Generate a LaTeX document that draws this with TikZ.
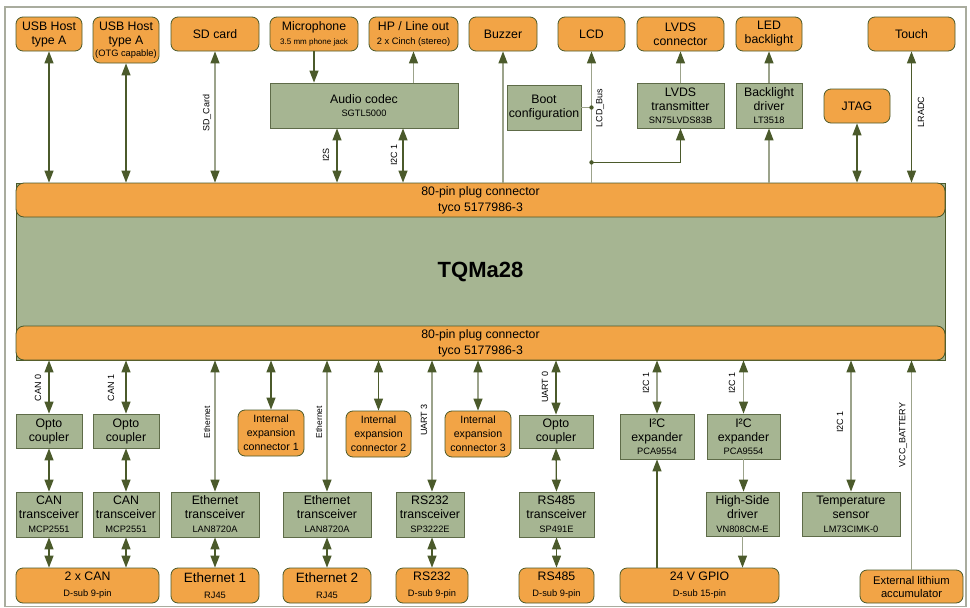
\documentclass[tikz,border=0pt]{standalone}
\usepackage{fontspec}
\setmainfont{Liberation Sans}
\usetikzlibrary{arrows.meta,calc}
\definecolor{org}{HTML}{F2A446}
\definecolor{grn}{HTML}{A6B592}
\definecolor{dk}{HTML}{4B5A2B}
\definecolor{gbord}{HTML}{5E6B48}
\definecolor{lt}{HTML}{9CA38B}
\definecolor{frm}{HTML}{A9AC9E}
\newcommand\bx[7]{\node[#2, minimum width={(#5)-(#3)}, minimum height={(#6)-(#4)}] (#1) at ({((#3)+(#5))/2},{((#4)+(#6))/2}) {#7};}
\newcommand\sm[1]{{\fontsize{9.3}{15}\selectfont #1}}
\newcommand\tn[1]{{\fontsize{8}{15}\selectfont #1}}
\tikzset{
 Tri/.tip={Triangle[length=12pt,width=9pt,color=dk]},
 obox/.style={draw=dk, fill=org, rounded corners=7pt, line width=0.8pt, align=center, inner sep=0.5pt, font=\fontsize{12.3}{15}\selectfont},
 gbox/.style={draw=gbord, fill=grn, line width=0.8pt, align=center, inner sep=0.5pt, font=\fontsize{12.3}{15}\selectfont},
 ibox/.style={obox, font=\fontsize{10.6}{13.8}\selectfont},
 dl/.style={draw=dk, line width=1.3pt},
 ll/.style={draw=lt, line width=1.2pt},
 lbl/.style={font=\fontsize{9}{10}\selectfont, rotate=90, inner sep=0pt},
}
\begin{document}
\begin{tikzpicture}[x=1pt,y=-1pt]
\useasboundingbox (0,0) rectangle (970,608);
\draw[frm, line width=1.5pt] (5,7) rectangle (966,606.5);

% main module
\bx{tqm}{gbox, draw=dk}{16}{183}{945}{360}{\fontsize{22}{24}\selectfont\bfseries TQMa28}
\bx{ctop}{obox, rounded corners=8pt}{16}{183}{945}{217}{80-pin plug connector\\[1pt]tyco 5177986-3}
\bx{cbot}{obox, rounded corners=8pt}{16}{326}{945}{360}{80-pin plug connector\\[1pt]tyco 5177986-3}

% top row
\bx{usb1}{obox}{16}{17}{82}{51}{USB Host\\[-1pt]type A}
\bx{usb2}{obox}{93}{17}{159}{63}{USB Host\\[-1pt]type A\\[-3pt]\sm{(OTG capable)}}
\bx{sd}{obox}{171}{17}{259}{51}{SD card}
\bx{mic}{obox}{270}{17}{358}{51}{Microphone\\[-1pt]\tn{3.5 mm phone jack}}
\bx{hp}{obox}{369}{17}{458}{51}{HP / Line out\\[-1pt]\sm{2 x Cinch (stereo)}}
\bx{buzzer}{obox}{469}{17}{537}{51}{Buzzer}
\bx{lcd}{obox}{558}{17}{625}{51}{LCD}
\bx{lvdsc}{obox}{637}{17}{724}{51}{LVDS\\[-1pt]connector}
\bx{led}{obox}{736}{17}{802}{51}{LED\\[-1pt]backlight}
\bx{touch}{obox}{868}{17}{955}{51}{Touch}

\bx{codec}{gbox}{270}{83}{458}{128}{Audio codec\\[-2pt]\sm{SGTL5000}}
\bx{boot}{gbox}{507}{85}{581}{130}{Boot\\[-1pt]configuration}
\bx{lvdst}{gbox}{637}{83}{724}{128}{LVDS\\[-1pt]transmitter\\[-2pt]\sm{SN75LVDS83B}}
\bx{bld}{gbox}{736}{83}{802}{128}{Backlight\\[-1pt]driver\\[-2pt]\sm{LT3518}}
\bx{jtag}{obox}{824}{89}{890}{123}{JTAG}

% bottom rows
\bx{opto1}{gbox}{16}{414}{82}{448}{Opto\\[-1pt]coupler}
\bx{opto2}{gbox}{93}{414}{159}{448}{Opto\\[-1pt]coupler}
\bx{int1}{ibox}{238}{410}{304}{456}{Internal\\expansion\\connector 1}
\bx{int2}{ibox}{346}{411}{411}{457}{Internal\\expansion\\connector 2}
\bx{int3}{ibox}{445}{411}{511}{457}{Internal\\expansion\\connector 3}
\bx{opto3}{gbox}{519}{415}{593}{448}{Opto\\[-1pt]coupler}
\bx{exp1}{gbox}{620}{414}{694}{459}{I²C\\[-1pt]expander\\[-2pt]\sm{PCA9554}}
\bx{exp2}{gbox}{707}{414}{780}{459}{I²C\\[-1pt]expander\\[-2pt]\sm{PCA9554}}

\bx{cant1}{gbox}{16}{492}{82}{537}{CAN\\[-1pt]transceiver\\[-1pt]\sm{MCP2551}}
\bx{cant2}{gbox}{93}{492}{159}{537}{CAN\\[-1pt]transceiver\\[-1pt]\sm{MCP2551}}
\bx{etht1}{gbox}{171}{492}{259}{537}{Ethernet\\[-1pt]transceiver\\[-1pt]\sm{LAN8720A}}
\bx{etht2}{gbox}{283}{492}{371}{537}{Ethernet\\[-1pt]transceiver\\[-1pt]\sm{LAN8720A}}
\bx{rs232t}{gbox}{396}{492}{464}{537}{RS232\\[-1pt]transceiver\\[-1pt]\sm{SP3222E}}
\bx{rs485t}{gbox}{519}{492}{594}{537}{RS485\\[-1pt]transceiver\\[-1pt]\sm{SP491E}}
\bx{hsd}{gbox}{706}{492}{779}{536}{High-Side\\[-1pt]driver\\[-1pt]\sm{VN808CM-E}}
\bx{temp}{gbox}{802}{492}{900}{536}{Temperature\\[-1pt]sensor\\[-1pt]\sm{LM73CIMK-0}}

\bx{can}{obox}{16}{568}{159}{603}{2 x CAN\\[1pt]\sm{D-sub 9-pin}}
\bx{eth1}{obox}{171}{568}{259}{603}{{\fontsize{13.5}{15}\selectfont Ethernet 1}\\[1pt]\sm{RJ45}}
\bx{eth2}{obox}{283}{568}{371}{603}{{\fontsize{13.5}{15}\selectfont Ethernet 2}\\[1pt]\sm{RJ45}}
\bx{rs232}{obox}{396}{568}{468}{603}{RS232\\[1pt]\sm{D-sub 9-pin}}
\bx{rs485}{obox}{519}{568}{594}{603}{RS485\\[1pt]\sm{D-sub 9-pin}}
\bx{gpio}{obox}{620}{568}{779}{603}{24 V GPIO\\[1pt]\sm{D-sub 15-pin}}
\bx{ext}{obox, font=\fontsize{11.2}{13}\selectfont}{860}{570}{963}{603}{External lithium\\accumulator}

% top connectors
\draw[dl,Tri-Tri] (usb1.south) -- (usb1.south |- ctop.north);
\draw[dl,Tri-Tri] (usb2.south) -- (usb2.south |- ctop.north);
\draw[ll,Tri-Tri] (sd.south) -- (sd.south |- ctop.north);
\draw[dl,-Tri] (mic.south) -- (mic.south |- codec.north);
\draw[ll,-Tri] (hp.south |- codec.north) -- (hp.south);
\coordinate (i2s) at ([xshift=-27pt]codec.south);
\coordinate (i2c) at ([xshift=39pt]codec.south);
\draw[dl,Tri-Tri] (i2s) -- (i2s |- ctop.north);
\draw[dl,Tri-Tri] (i2c) -- (i2c |- ctop.north);
\draw[ll,-Tri] (buzzer.south |- ctop.north) -- (buzzer.south);
\draw[ll,-Tri] (lcd.south |- ctop.north) -- (lcd.south);
\draw[ll] (boot.east) -- (boot.east -| lcd.south);
\fill[dk] (boot.east -| lcd.south) circle (2.2pt);
\coordinate (lvj) at ($(lcd.south)+(0,111)$);
\draw[dl,-Tri] (lvj) -| (lvdst.south);
\fill[dk] (lvj) circle (2.2pt);
\draw[ll,-Tri] (lvdst.north) -- (lvdsc.south);
\draw[ll,-Tri] (bld.south |- ctop.north) -- (bld.south);
\draw[ll,-Tri] (bld.north) -- (led.south);
\draw[dl,Tri-Tri] (jtag.south) -- (jtag.south |- ctop.north);
\draw[dl,Tri-Tri] (touch.south) -- (touch.south |- ctop.north);

% bottom connectors
\draw[dl,Tri-Tri] (opto1.north |- cbot.south) -- (opto1.north);
\draw[dl,Tri-Tri] (opto2.north |- cbot.south) -- (opto2.north);
\draw[ll,Tri-Tri] (etht1.north |- cbot.south) -- (etht1.north);
\draw[dl,Tri-Tri] (int1.north |- cbot.south) -- (int1.north);
\draw[ll,Tri-Tri] (etht2.north |- cbot.south) -- (etht2.north);
\draw[dl,Tri-Tri] (int2.north |- cbot.south) -- (int2.north);
\coordinate (u3) at ([xshift=2pt]rs232t.north);
\draw[ll,Tri-Tri] (u3 |- cbot.south) -- (u3);
\draw[ll,Tri-Tri] (int3.north |- cbot.south) -- (int3.north);
\draw[dl,Tri-Tri] (opto3.north |- cbot.south) -- (opto3.north);
\draw[ll,Tri-Tri] (exp1.north |- cbot.south) -- (exp1.north);
\draw[ll,Tri-Tri] (exp2.north |- cbot.south) -- (exp2.north);
\draw[ll,Tri-Tri] (temp.north |- cbot.south) -- (temp.north);
\draw[ll,Tri-] (ext.north |- cbot.south) -- (ext.north);

\draw[dl,Tri-Tri] (opto1.south) -- (cant1.north);
\draw[dl,Tri-Tri] (opto2.south) -- (cant2.north);
\draw[dl,Tri-Tri] (opto3.south) -- (rs485t.north);
\draw[ll,-Tri] (exp2.south) -- (exp2.south |- hsd.north);
\draw[ll,-Tri] (hsd.south) -- (hsd.south |- gpio.north);
\draw[dl,-Tri] (exp1.south |- gpio.north) -- (exp1.south);

\draw[dl,Tri-Tri] (cant1.south) -- (cant1.south |- can.north);
\draw[dl,Tri-Tri] (cant2.south) -- (cant2.south |- can.north);
\draw[dl,Tri-Tri] (etht1.south) -- (eth1.north);
\draw[dl,Tri-Tri] (etht2.south) -- (eth2.north);
\draw[dl,Tri-Tri] (u3 |- rs232t.south) -- (u3 |- rs232.north);
\draw[dl,Tri-Tri] (rs485t.south) -- (rs485.north);

% labels
\node[lbl] (lsd) at (207,113) {SD\_Card};
\node[lbl] (li2s) at (326,155) {I2S};
\node[lbl] (li2c) at (394,155) {I2C 1};
\node[lbl] (llcd) at (600,108) {LCD\_Bus};
\node[lbl] (lradc) at (921,112) {LRADC};
\node[lbl] (lcan0) at (38,388) {CAN 0};
\node[lbl] (lcan1) at (111,388) {CAN 1};
\node[lbl, font=\fontsize{8.5}{10}\selectfont] (leth1) at (207,422) {Ethernet};
\node[lbl, font=\fontsize{8.5}{10}\selectfont] (leth2) at (319,422) {Ethernet};
\node[lbl] (luart3) at (424,420) {UART 3};
\node[lbl] (luart0) at (545,387) {UART 0};
\node[lbl] (lx1) at (646,383) {I2C 1};
\node[lbl] (lx2) at (732,383) {I2C 1};
\node[lbl] (lt) at (840,422) {I2C 1};
\node[lbl] (lvcc) at (903,435) {VCC\_BATTERY};
\end{tikzpicture}
\end{document}
